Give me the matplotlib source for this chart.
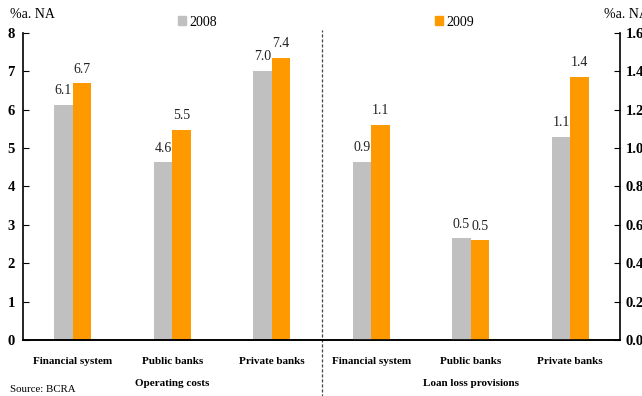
import numpy as np
import matplotlib
matplotlib.use("Agg")
from matplotlib import pyplot as plt
from matplotlib.patches import Patch

plt.rcParams['font.family'] = ['Liberation Serif', 'DejaVu Serif']

# categories
banks = ["Financial system", "Public banks", "Private banks"]
groups = ["Operating costs", "Loan loss provisions"]
years = ["2008", "2009"]

# operating costs (% of net assets, left axis)
op_2008 = [6.13, 4.63, 7.01]
op_2009 = [6.69, 5.47, 7.36]

# loan loss provisions (% of net assets, right axis)
llp_2008 = [0.93, 0.53, 1.06]
llp_2009 = [1.12, 0.52, 1.37]

gris = "#c0c0c0"
naranja = "#ff9900"

fig = plt.figure(figsize=(6.42, 3.96), dpi=100)
ax = fig.add_axes([23/642, 1 - 340/396, 597/642, 307/396])
ax2 = ax.twinx()

w = 0.187
x1 = np.arange(3) + 0.5
x2 = np.arange(3) + 3.5

ax.bar(x1 - w/2, op_2008, w, color=gris)
ax.bar(x1 + w/2, op_2009, w, color=naranja)
ax2.bar(x2 - w/2, llp_2008, w, color=gris)
ax2.bar(x2 + w/2, llp_2009, w, color=naranja)

# value labels over the bars
for xs, vals, a, off in [(x1 - w/2, op_2008, ax, 0.2), (x1 + w/2, op_2009, ax, 0.2),
                         (x2 - w/2, llp_2008, ax2, 0.04), (x2 + w/2, llp_2009, ax2, 0.04)]:
    for xx, v in zip(xs, vals):
        a.text(xx, v + off, f"{v:.1f}", ha="center", va="bottom", fontsize=10, color="#222222")

ax.set_xlim(0, 6)
ax.set_ylim(0, 8)
ax2.set_ylim(0, 1.6)
ax.set_yticks(range(0, 9))
ax2.set_yticks(np.arange(0, 1.61, 0.2))
ax2.set_yticklabels([f"{v:.1f}" for v in np.arange(0, 1.61, 0.2)])

for a in (ax, ax2):
    a.spines["top"].set_visible(False)
    for s in a.spines.values():
        s.set_linewidth(1.2)
ax.spines["right"].set_visible(False)
ax2.spines["left"].set_visible(False)

ax.tick_params(axis="y", direction="in", length=4, pad=6, labelsize=10.5)
ax2.tick_params(axis="y", direction="in", length=4, pad=4, labelsize=10.5)
for lab in ax.get_yticklabels() + ax2.get_yticklabels():
    lab.set_fontweight("bold")

ax.set_xticks(np.concatenate([x1, x2]))
ax.set_xticklabels(banks + banks, fontweight="bold", fontsize=8)
ax.tick_params(axis="x", length=0, pad=12)

for i, g in enumerate(groups):
    ax.text(1.5 + 3 * i, -0.142, g, transform=ax.get_xaxis_transform(),
            ha="center", va="center", fontsize=8, fontweight="bold")

# divider between the two panels
ax.plot([3, 3], [-0.19, 1.01], transform=ax.get_xaxis_transform(), clip_on=False,
        color="#444444", linestyle=(0, (2.5, 1.5)), linewidth=0.9)

fig.text(10/642, 1 - 15/396, "%a. NA", fontsize=10, va="center", ha="left")
fig.text(604/642, 1 - 15/396, "%a. NA", fontsize=10, va="center", ha="left")
fig.text(10/642, 1 - 390/396, "Source: BCRA", fontsize=7.8, va="center", ha="left")

handles = [Patch(color=gris, label=years[0]), Patch(color=naranja, label=years[1])]
fig.legend(handles=handles, loc="center", bbox_to_anchor=(0.508, 1 - 22/396), ncol=2,
           frameon=False, fontsize=10, handlelength=0.55, handleheight=0.55,
           handletextpad=0.25, columnspacing=15.7, borderpad=0)

fig.savefig("out.png", dpi=100)
